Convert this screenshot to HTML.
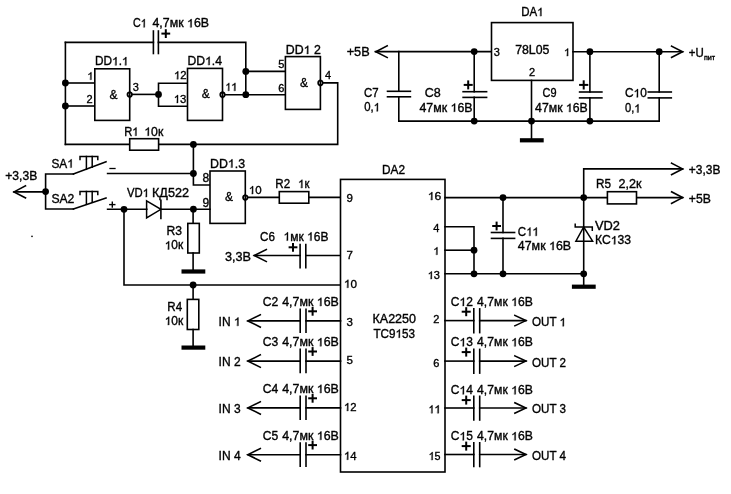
<!DOCTYPE html>
<html><head><meta charset="utf-8"><style>
html,body{margin:0;padding:0;background:#fff;}
svg{display:block;will-change:transform;}
svg path, svg rect{stroke:#000;fill:none;stroke-linecap:square;stroke-linejoin:miter;}
svg rect{fill:#fff;}
svg .f{fill:#000;stroke:none;}
svg .g{fill:#000;stroke:#000;stroke-width:0.35;vector-effect:non-scaling-stroke;}
svg .b{fill:#fff;stroke:#000;stroke-width:1.8;}
svg text{font-family:"Liberation Sans",sans-serif;fill:#000;stroke:#000;stroke-width:0.35;}
</style></head><body>
<svg width="731" height="494" viewBox="0 0 731 494">
<path d="M65.4,42.4 L65.4,144.4" stroke-width="1.6"/>
<path d="M65.4,42.4 L153.4,42.4" stroke-width="1.6"/>
<path d="M158.4,42.4 L245.8,42.4 L245.8,94.7" stroke-width="1.6"/>
<path d="M153.4,31.0 L153.4,53.5" stroke-width="1.6"/>
<path d="M158.4,31.0 L158.4,53.5" stroke-width="1.6"/>
<path d="M162.4,33.6 L169.2,33.6" stroke-width="2.0"/>
<path d="M165.8,30.2 L165.8,37.0" stroke-width="2.0"/>
<text x="133.0" y="27.3" font-size="12" textLength="13.7" lengthAdjust="spacingAndGlyphs">C </text>
<text x="152.5" y="27.3" font-size="12" textLength="56.5" lengthAdjust="spacingAndGlyphs">4,7мк  6В</text>
<circle cx="65.4" cy="83.0" r="3.4" class="f"/>
<circle cx="65.4" cy="106.0" r="3.4" class="f"/>
<path d="M65.4,83.0 L95.0,83.0" stroke-width="1.6"/>
<path d="M65.4,106.0 L95.0,106.0" stroke-width="1.6"/>
<rect x="94.8" y="68.8" width="34.9" height="51.6" stroke-width="1.6" fill="#fff"/>
<text x="95.0" y="65.3" font-size="12" textLength="33.5" lengthAdjust="spacingAndGlyphs">DD . </text>
<text x="87.3" y="79.7" font-size="11"> </text>
<text x="86.5" y="102.5" font-size="11">2</text>
<text x="109.5" y="98.7" font-size="12">&amp;</text>
<circle cx="129.7" cy="94.5" r="2.2" class="b"/>
<path d="M129.7,91.5 L129.7,97.5" stroke-width="1.5"/>
<text x="132.8" y="90.8" font-size="11">3</text>
<path d="M132.0,94.4 L158.5,94.4" stroke-width="1.6"/>
<circle cx="158.5" cy="94.4" r="3.4" class="f"/>
<path d="M187.5,83.3 L158.5,83.3 L158.5,106.2 L187.5,106.2" stroke-width="1.6"/>
<rect x="187.5" y="68.4" width="35.0" height="52.0" stroke-width="1.6" fill="#fff"/>
<text x="187.5" y="65.0" font-size="12" textLength="34.5" lengthAdjust="spacingAndGlyphs">DD .4</text>
<text x="174.0" y="79.2" font-size="11.5" textLength="12.6" lengthAdjust="spacingAndGlyphs"> 2</text>
<text x="173.8" y="102.9" font-size="11.5" textLength="12.6" lengthAdjust="spacingAndGlyphs"> 3</text>
<text x="201.8" y="97.8" font-size="12">&amp;</text>
<circle cx="222.5" cy="94.7" r="2.2" class="b"/>
<path d="M222.5,91.7 L222.5,97.7" stroke-width="1.5"/>
<text x="225.5" y="90.8" font-size="11.5" textLength="12" lengthAdjust="spacingAndGlyphs">  </text>
<path d="M224.8,94.7 L285.4,94.7" stroke-width="1.6"/>
<circle cx="245.8" cy="71.4" r="3.4" class="f"/>
<circle cx="245.8" cy="94.7" r="3.4" class="f"/>
<path d="M245.8,71.4 L285.4,71.4" stroke-width="1.6"/>
<rect x="285.4" y="56.6" width="35.0" height="52.8" stroke-width="1.6" fill="#fff"/>
<text x="285.8" y="53.9" font-size="12" textLength="35" lengthAdjust="spacingAndGlyphs">DD  2</text>
<text x="278.2" y="68.4" font-size="11">5</text>
<text x="278.2" y="91.7" font-size="11">6</text>
<text x="300.0" y="86.7" font-size="12">&amp;</text>
<circle cx="320.4" cy="82.9" r="2.2" class="b"/>
<path d="M320.4,79.9 L320.4,85.9" stroke-width="1.5"/>
<text x="325.0" y="79.3" font-size="11">4</text>
<path d="M322.9,82.9 L337.7,82.9 L337.7,144.4 L158.6,144.4" stroke-width="1.6"/>
<path d="M129.7,144.4 L65.4,144.4" stroke-width="1.6"/>
<rect x="129.7" y="138.7" width="28.9" height="11.5" stroke-width="1.6" fill="#fff"/>
<text x="124.2" y="135.7" font-size="12" textLength="14.3" lengthAdjust="spacingAndGlyphs">R </text>
<text x="144.3" y="135.7" font-size="12" textLength="19" lengthAdjust="spacingAndGlyphs"> 0к</text>
<circle cx="193.4" cy="144.4" r="3.4" class="f"/>
<path d="M193.4,144.4 L193.4,185.0 L210.0,185.0" stroke-width="1.6"/>
<circle cx="193.4" cy="173.5" r="3.4" class="f"/>
<path d="M107.6,173.5 L193.4,173.5" stroke-width="1.6"/>
<rect x="210.0" y="171.0" width="35.3" height="52.4" stroke-width="1.6" fill="#fff"/>
<text x="210.0" y="167.6" font-size="12" textLength="35" lengthAdjust="spacingAndGlyphs">DD .3</text>
<text x="202.4" y="181.8" font-size="12">8</text>
<text x="202.4" y="206.6" font-size="12">9</text>
<text x="225.0" y="200.8" font-size="12">&amp;</text>
<circle cx="245.3" cy="197.5" r="2.2" class="b"/>
<path d="M245.3,194.5 L245.3,200.5" stroke-width="1.5"/>
<text x="248.8" y="194.0" font-size="11.5" textLength="12.8" lengthAdjust="spacingAndGlyphs"> 0</text>
<path d="M247.8,197.4 L279.3,197.4" stroke-width="1.6"/>
<rect x="279.3" y="191.6" width="29.5" height="11.6" stroke-width="1.6" fill="#fff"/>
<path d="M308.8,197.4 L340.5,197.4" stroke-width="1.6"/>
<text x="275.3" y="188.0" font-size="12" textLength="14.8" lengthAdjust="spacingAndGlyphs">R2</text>
<text x="298.1" y="188.0" font-size="12" textLength="11.3" lengthAdjust="spacingAndGlyphs"> к</text>
<text x="5.3" y="180.3" font-size="12" textLength="32" lengthAdjust="spacingAndGlyphs">+3,3В</text>
<path d="M25.5,185.9 L14.0,191.9 L25.5,197.9" stroke-width="1.6"/>
<path d="M14.0,191.9 L45.6,191.9" stroke-width="1.6"/>
<circle cx="45.6" cy="191.6" r="3.4" class="f"/>
<path d="M73.4,174.0 L45.6,174.0 L45.6,209.0 L73.4,209.0" stroke-width="1.6"/>
<path d="M73.4,174.0 L106.0,161.8" stroke-width="1.6"/>
<path d="M73.4,209.0 L106.0,198.0" stroke-width="1.6"/>
<text x="51.4" y="167.6" font-size="12" textLength="22.4" lengthAdjust="spacingAndGlyphs">SA </text>
<text x="51.4" y="203.1" font-size="12" textLength="23" lengthAdjust="spacingAndGlyphs">SA2</text>
<path d="M110.0,168.5 L115.0,168.5" stroke-width="1.3"/>
<path d="M109.8,204.6 L114.8,204.6" stroke-width="1.4"/>
<path d="M112.3,202.1 L112.3,207.1" stroke-width="1.4"/>
<path d="M80.0,159.6 L80.0,156.5 L97.8,156.5 L97.8,159.6" stroke-width="1.5"/>
<path d="M86.4,156.5 L86.4,169.3" stroke-width="1.5"/>
<path d="M92.2,156.5 L92.2,167.3" stroke-width="1.5"/>
<path d="M80.0,194.6 L80.0,191.5 L97.8,191.5 L97.8,194.6" stroke-width="1.5"/>
<path d="M86.4,191.5 L86.4,204.3" stroke-width="1.5"/>
<path d="M92.2,191.5 L92.2,202.3" stroke-width="1.5"/>
<path d="M107.6,209.3 L146.8,209.3" stroke-width="1.6"/>
<path d="M160.9,209.3 L210.0,209.3" stroke-width="1.6"/>
<path d="M146.6,200.8 L160.9,209.3 L146.6,218 Z" fill="#fff" stroke-width="1.5"/>
<path d="M160.9,200.4 L160.9,218.4" stroke-width="1.6"/>
<text x="127.0" y="197.0" font-size="12" textLength="22" lengthAdjust="spacingAndGlyphs">VD </text>
<text x="152.0" y="197.0" font-size="12" textLength="37" lengthAdjust="spacingAndGlyphs">КД522</text>
<circle cx="124.0" cy="209.3" r="3.4" class="f"/>
<circle cx="193.4" cy="209.2" r="3.4" class="f"/>
<path d="M193.1,209.3 L193.1,223.4" stroke-width="1.6"/>
<rect x="187.8" y="223.4" width="11.5" height="29.6" stroke-width="1.6" fill="#fff"/>
<path d="M193.1,253.0 L193.1,271.0" stroke-width="1.6"/>
<rect x="181.5" y="269.4" width="23.8" height="4.2" class="f"/>
<text x="166.5" y="235.2" font-size="12" textLength="15.5" lengthAdjust="spacingAndGlyphs">R3</text>
<text x="164.7" y="249.4" font-size="12" textLength="18.5" lengthAdjust="spacingAndGlyphs"> 0к</text>
<text x="225.0" y="260.8" font-size="12" textLength="26" lengthAdjust="spacingAndGlyphs">3,3В</text>
<path d="M266.3,249.5 L254.3,255.5 L266.3,261.5" stroke-width="1.6"/>
<path d="M254.3,255.5 L300.1,255.5" stroke-width="1.6"/>
<path d="M305.8,255.5 L340.5,255.5" stroke-width="1.6"/>
<path d="M300.1,244.5 L300.1,267.8" stroke-width="1.6"/>
<path d="M305.8,244.5 L305.8,267.8" stroke-width="1.6"/>
<path d="M289.6,247.3 L296.4,247.3" stroke-width="2.0"/>
<path d="M293.0,243.9 L293.0,250.7" stroke-width="2.0"/>
<text x="260.0" y="240.6" font-size="12" textLength="14.9" lengthAdjust="spacingAndGlyphs">C6</text>
<text x="283.5" y="240.6" font-size="12" textLength="44.9" lengthAdjust="spacingAndGlyphs"> мк  6В</text>
<path d="M124.0,209.3 L124.0,285.0 L340.5,285.0" stroke-width="1.6"/>
<circle cx="193.1" cy="285.0" r="3.4" class="f"/>
<path d="M193.1,285.0 L193.1,299.4" stroke-width="1.6"/>
<rect x="187.3" y="299.4" width="11.5" height="30.1" stroke-width="1.6" fill="#fff"/>
<path d="M193.1,329.5 L193.1,347.6" stroke-width="1.6"/>
<rect x="181.5" y="345.5" width="23.8" height="4.2" class="f"/>
<text x="167.3" y="310.6" font-size="12" textLength="14.8" lengthAdjust="spacingAndGlyphs">R4</text>
<text x="164.7" y="324.9" font-size="12" textLength="18.6" lengthAdjust="spacingAndGlyphs"> 0к</text>
<rect x="340.5" y="179.4" width="104.5" height="292.6" stroke-width="1.6" fill="#fff"/>
<text x="382.0" y="173.7" font-size="12" textLength="23" lengthAdjust="spacingAndGlyphs">DA2</text>
<text x="372.5" y="323.1" font-size="12" textLength="43.5" lengthAdjust="spacingAndGlyphs">КА2250</text>
<text x="373.5" y="337.7" font-size="12" textLength="41.5" lengthAdjust="spacingAndGlyphs">ТС9 53</text>
<text x="346.6" y="202.4" font-size="11.5">9</text>
<text x="346.6" y="259.4" font-size="11.5">7</text>
<text x="344.0" y="287.7" font-size="11.5" textLength="13" lengthAdjust="spacingAndGlyphs"> 0</text>
<text x="346.6" y="325.6" font-size="11.5">3</text>
<text x="346.6" y="363.8" font-size="11.5">5</text>
<text x="344.0" y="410.9" font-size="11.5" textLength="12.6" lengthAdjust="spacingAndGlyphs"> 2</text>
<text x="344.0" y="459.7" font-size="11.5" textLength="12.6" lengthAdjust="spacingAndGlyphs"> 4</text>
<text x="427.8" y="200.0" font-size="11.5" textLength="13.5" lengthAdjust="spacingAndGlyphs"> 6</text>
<text x="433.3" y="232.0" font-size="11">4</text>
<text x="433.3" y="254.7" font-size="11"> </text>
<text x="427.7" y="279.0" font-size="11"> 3</text>
<text x="433.3" y="323.0" font-size="11">2</text>
<text x="433.3" y="366.5" font-size="11">6</text>
<text x="428.6" y="413.2" font-size="11.5" textLength="12.3" lengthAdjust="spacingAndGlyphs">  </text>
<text x="428.6" y="460.0" font-size="11.5" textLength="12" lengthAdjust="spacingAndGlyphs"> 5</text>
<path d="M260.3,314.7 L247.8,320.9 L260.3,327.1" stroke-width="1.6"/>
<path d="M248.2,320.9 L300.2,320.9" stroke-width="1.6"/>
<path d="M306.0,320.9 L340.5,320.9" stroke-width="1.6"/>
<path d="M300.2,309.2 L300.2,332.3" stroke-width="1.6"/>
<path d="M306.0,309.2 L306.0,332.3" stroke-width="1.6"/>
<path d="M309.2,311.3 L316.0,311.3" stroke-width="2.0"/>
<path d="M312.6,307.9 L312.6,314.7" stroke-width="2.0"/>
<text x="262.7" y="306.0" font-size="12" textLength="15.5" lengthAdjust="spacingAndGlyphs">C2</text>
<text x="282.2" y="306.0" font-size="12" textLength="56.6" lengthAdjust="spacingAndGlyphs">4,7мк  6В</text>
<text x="218.6" y="325.8" font-size="12">IN  </text>
<path d="M260.3,354.9 L247.8,361.1 L260.3,367.3" stroke-width="1.6"/>
<path d="M248.2,361.1 L300.2,361.1" stroke-width="1.6"/>
<path d="M306.0,361.1 L340.5,361.1" stroke-width="1.6"/>
<path d="M300.2,349.4 L300.2,372.5" stroke-width="1.6"/>
<path d="M306.0,349.4 L306.0,372.5" stroke-width="1.6"/>
<path d="M309.2,351.5 L316.0,351.5" stroke-width="2.0"/>
<path d="M312.6,348.1 L312.6,354.9" stroke-width="2.0"/>
<text x="262.7" y="346.2" font-size="12" textLength="15.5" lengthAdjust="spacingAndGlyphs">C3</text>
<text x="282.2" y="346.2" font-size="12" textLength="56.6" lengthAdjust="spacingAndGlyphs">4,7мк  6В</text>
<text x="218.6" y="366.0" font-size="12">IN 2</text>
<path d="M260.3,401.7 L247.8,407.9 L260.3,414.1" stroke-width="1.6"/>
<path d="M248.2,407.9 L300.2,407.9" stroke-width="1.6"/>
<path d="M306.0,407.9 L340.5,407.9" stroke-width="1.6"/>
<path d="M300.2,396.2 L300.2,419.3" stroke-width="1.6"/>
<path d="M306.0,396.2 L306.0,419.3" stroke-width="1.6"/>
<path d="M309.2,398.3 L316.0,398.3" stroke-width="2.0"/>
<path d="M312.6,394.9 L312.6,401.7" stroke-width="2.0"/>
<text x="262.7" y="393.0" font-size="12" textLength="15.5" lengthAdjust="spacingAndGlyphs">C4</text>
<text x="282.2" y="393.0" font-size="12" textLength="56.6" lengthAdjust="spacingAndGlyphs">4,7мк  6В</text>
<text x="218.6" y="412.8" font-size="12">IN 3</text>
<path d="M260.3,448.5 L247.8,454.7 L260.3,460.9" stroke-width="1.6"/>
<path d="M248.2,454.7 L300.2,454.7" stroke-width="1.6"/>
<path d="M306.0,454.7 L340.5,454.7" stroke-width="1.6"/>
<path d="M300.2,443.0 L300.2,466.1" stroke-width="1.6"/>
<path d="M306.0,443.0 L306.0,466.1" stroke-width="1.6"/>
<path d="M309.2,445.1 L316.0,445.1" stroke-width="2.0"/>
<path d="M312.6,441.7 L312.6,448.5" stroke-width="2.0"/>
<text x="262.7" y="439.8" font-size="12" textLength="15.5" lengthAdjust="spacingAndGlyphs">C5</text>
<text x="282.2" y="439.8" font-size="12" textLength="56.6" lengthAdjust="spacingAndGlyphs">4,7мк  6В</text>
<text x="218.6" y="459.6" font-size="12">IN 4</text>
<path d="M445.0,320.6 L473.8,320.6" stroke-width="1.6"/>
<path d="M479.7,320.6 L525.9,320.6" stroke-width="1.6"/>
<path d="M514.9,315.4 L525.9,320.6 L514.9,325.8" stroke-width="1.6"/>
<path d="M473.8,308.9 L473.8,332.6" stroke-width="1.6"/>
<path d="M479.7,308.9 L479.7,332.6" stroke-width="1.6"/>
<path d="M462.7,311.7 L469.7,311.7" stroke-width="2.0"/>
<path d="M466.2,308.2 L466.2,315.2" stroke-width="2.0"/>
<text x="450.8" y="305.9" font-size="12" textLength="22" lengthAdjust="spacingAndGlyphs">C 2</text>
<text x="477.1" y="305.9" font-size="12" textLength="55.7" lengthAdjust="spacingAndGlyphs">4,7мк  6В</text>
<text x="532.0" y="326.2" font-size="12" textLength="34" lengthAdjust="spacingAndGlyphs">OUT  </text>
<path d="M445.0,361.1 L473.8,361.1" stroke-width="1.6"/>
<path d="M479.7,361.1 L525.9,361.1" stroke-width="1.6"/>
<path d="M514.9,355.9 L525.9,361.1 L514.9,366.3" stroke-width="1.6"/>
<path d="M473.8,349.4 L473.8,373.1" stroke-width="1.6"/>
<path d="M479.7,349.4 L479.7,373.1" stroke-width="1.6"/>
<path d="M462.7,352.1 L469.7,352.1" stroke-width="2.0"/>
<path d="M466.2,348.6 L466.2,355.6" stroke-width="2.0"/>
<text x="450.8" y="346.3" font-size="12" textLength="22" lengthAdjust="spacingAndGlyphs">C 3</text>
<text x="477.1" y="346.3" font-size="12" textLength="55.7" lengthAdjust="spacingAndGlyphs">4,7мк  6В</text>
<text x="532.0" y="367.0" font-size="12" textLength="34" lengthAdjust="spacingAndGlyphs">OUT 2</text>
<path d="M445.0,408.0 L473.8,408.0" stroke-width="1.6"/>
<path d="M479.7,408.0 L525.9,408.0" stroke-width="1.6"/>
<path d="M514.9,402.8 L525.9,408.0 L514.9,413.2" stroke-width="1.6"/>
<path d="M473.8,396.3 L473.8,420.0" stroke-width="1.6"/>
<path d="M479.7,396.3 L479.7,420.0" stroke-width="1.6"/>
<path d="M462.7,400.1 L469.7,400.1" stroke-width="2.0"/>
<path d="M466.2,396.6 L466.2,403.6" stroke-width="2.0"/>
<text x="450.8" y="394.3" font-size="12" textLength="22" lengthAdjust="spacingAndGlyphs">C 4</text>
<text x="477.1" y="394.3" font-size="12" textLength="55.7" lengthAdjust="spacingAndGlyphs">4,7мк  6В</text>
<text x="532.0" y="413.3" font-size="12" textLength="34" lengthAdjust="spacingAndGlyphs">OUT 3</text>
<path d="M445.0,454.5 L473.8,454.5" stroke-width="1.6"/>
<path d="M479.7,454.5 L525.9,454.5" stroke-width="1.6"/>
<path d="M514.9,449.3 L525.9,454.5 L514.9,459.7" stroke-width="1.6"/>
<path d="M473.8,442.8 L473.8,466.5" stroke-width="1.6"/>
<path d="M479.7,442.8 L479.7,466.5" stroke-width="1.6"/>
<path d="M462.7,446.1 L469.7,446.1" stroke-width="2.0"/>
<path d="M466.2,442.6 L466.2,449.6" stroke-width="2.0"/>
<text x="450.8" y="440.3" font-size="12" textLength="22" lengthAdjust="spacingAndGlyphs">C 5</text>
<text x="477.1" y="440.3" font-size="12" textLength="55.7" lengthAdjust="spacingAndGlyphs">4,7мк  6В</text>
<text x="532.0" y="460.0" font-size="12" textLength="34" lengthAdjust="spacingAndGlyphs">OUT 4</text>
<path d="M445.0,197.6 L607.4,197.6" stroke-width="1.6"/>
<path d="M636.5,197.6 L682.6,197.6" stroke-width="1.6"/>
<path d="M671.6,191.8 L682.6,197.6 L671.6,203.4" stroke-width="1.6"/>
<rect x="607.4" y="191.7" width="29.1" height="12.2" stroke-width="1.6" fill="#fff"/>
<text x="596.1" y="188.3" font-size="12" textLength="15" lengthAdjust="spacingAndGlyphs">R5</text>
<text x="618.4" y="188.3" font-size="12" textLength="23" lengthAdjust="spacingAndGlyphs">2,2к</text>
<text x="688.8" y="203.3" font-size="12" textLength="22" lengthAdjust="spacingAndGlyphs">+5В</text>
<path d="M583.7,197.6 L583.7,168.9 L682.6,168.9" stroke-width="1.6"/>
<path d="M671.6,163.1 L682.6,168.9 L671.6,174.7" stroke-width="1.6"/>
<text x="688.8" y="174.2" font-size="12" textLength="31.6" lengthAdjust="spacingAndGlyphs">+3,3В</text>
<circle cx="503.0" cy="197.6" r="3.4" class="f"/>
<circle cx="583.7" cy="197.6" r="3.4" class="f"/>
<path d="M445.0,226.8 L474.0,226.8 L474.0,273.8" stroke-width="1.6"/>
<path d="M445.0,250.2 L474.0,250.2" stroke-width="1.6"/>
<circle cx="474.0" cy="250.2" r="3.4" class="f"/>
<path d="M445.0,273.8 L583.7,273.8" stroke-width="1.6"/>
<circle cx="474.0" cy="273.8" r="3.4" class="f"/>
<circle cx="503.0" cy="273.8" r="3.4" class="f"/>
<circle cx="583.7" cy="273.8" r="3.4" class="f"/>
<path d="M503.0,197.6 L503.0,232.5" stroke-width="1.6"/>
<path d="M503.0,238.4 L503.0,273.8" stroke-width="1.6"/>
<path d="M491.5,232.5 L514.6,232.5" stroke-width="1.6"/>
<path d="M491.5,238.4 L514.6,238.4" stroke-width="1.6"/>
<path d="M493.2,226.0 L500.0,226.0" stroke-width="2.0"/>
<path d="M496.6,222.6 L496.6,229.4" stroke-width="2.0"/>
<text x="517.8" y="235.8" font-size="12" textLength="21.2" lengthAdjust="spacingAndGlyphs">C  </text>
<text x="517.8" y="250.0" font-size="12" textLength="53.3" lengthAdjust="spacingAndGlyphs">47мк  6В</text>
<path d="M583.7,197.6 L583.7,286.7" stroke-width="1.6"/>
<path d="M575.9,241.2 L592.6,241.2 L583.7,227 Z" fill="#fff" stroke-width="1.5"/>
<path d="M575.2,224.2 L575.2,227.0 L592.3,227.0 L592.3,230.2" stroke-width="1.5"/>
<rect x="571.9" y="284.6" width="23.8" height="4.2" class="f"/>
<text x="595.0" y="229.5" font-size="12" textLength="25" lengthAdjust="spacingAndGlyphs">VD2</text>
<text x="595.0" y="244.3" font-size="12" textLength="36" lengthAdjust="spacingAndGlyphs">КС 33</text>
<text x="346.7" y="56.1" font-size="12" textLength="23" lengthAdjust="spacingAndGlyphs">+5В</text>
<path d="M387.2,45.9 L375.8,51.7 L387.2,57.5" stroke-width="1.6"/>
<path d="M375.5,51.6 L491.3,51.6" stroke-width="1.6"/>
<circle cx="474.2" cy="51.6" r="3.4" class="f"/>
<path d="M398.8,51.6 L398.8,91.3" stroke-width="1.6"/>
<path d="M398.8,96.8 L398.8,121.1" stroke-width="1.6"/>
<path d="M387.5,91.3 L410.4,91.3" stroke-width="1.6"/>
<path d="M387.5,96.8 L410.4,96.8" stroke-width="1.6"/>
<text x="364.0" y="97.1" font-size="12" textLength="14.6" lengthAdjust="spacingAndGlyphs">C7</text>
<text x="364.2" y="111.3" font-size="12" textLength="15.8" lengthAdjust="spacingAndGlyphs">0, </text>
<path d="M474.2,51.6 L474.2,91.7" stroke-width="1.6"/>
<path d="M474.2,97.4 L474.2,121.1" stroke-width="1.6"/>
<path d="M463.1,91.7 L486.6,91.7" stroke-width="1.6"/>
<path d="M463.1,97.4 L486.6,97.4" stroke-width="1.6"/>
<path d="M464.7,84.9 L471.7,84.9" stroke-width="2"/>
<path d="M468.2,81.4 L468.2,88.4" stroke-width="2"/>
<text x="424.7" y="97.1" font-size="12" textLength="16" lengthAdjust="spacingAndGlyphs">C8</text>
<text x="419.5" y="111.7" font-size="12" textLength="53" lengthAdjust="spacingAndGlyphs">47мк  6В</text>
<circle cx="474.2" cy="121.1" r="3.4" class="f"/>
<rect x="491.5" y="22.6" width="81.5" height="57.8" stroke-width="1.6" fill="#fff"/>
<text x="521.2" y="16.1" font-size="12" textLength="22.3" lengthAdjust="spacingAndGlyphs">DA </text>
<text x="515.2" y="54.3" font-size="12" textLength="34.2" lengthAdjust="spacingAndGlyphs">78L05</text>
<text x="493.7" y="56.0" font-size="11">3</text>
<text x="564.0" y="56.0" font-size="11"> </text>
<text x="529.0" y="75.9" font-size="11">2</text>
<path d="M531.5,80.4 L531.5,140.0" stroke-width="1.6"/>
<circle cx="531.5" cy="121.1" r="3.4" class="f"/>
<rect x="519.9" y="138.2" width="23.8" height="4.2" class="f"/>
<path d="M573.0,51.7 L682.6,51.7" stroke-width="1.6"/>
<path d="M671.6,46.1 L682.6,51.7 L671.6,57.3" stroke-width="1.6"/>
<circle cx="589.9" cy="51.7" r="3.4" class="f"/>
<circle cx="659.2" cy="51.7" r="3.4" class="f"/>
<text x="688.8" y="56.7" font-size="12" textLength="15" lengthAdjust="spacingAndGlyphs">+U</text>
<text x="703.9" y="59.6" font-size="6.9" textLength="11.2" lengthAdjust="spacingAndGlyphs">пит</text>
<path d="M589.9,51.7 L589.9,92.0" stroke-width="1.6"/>
<path d="M589.9,97.9 L589.9,121.1" stroke-width="1.6"/>
<path d="M579.6,92.0 L601.9,92.0" stroke-width="1.6"/>
<path d="M579.6,97.9 L601.9,97.9" stroke-width="1.6"/>
<path d="M580.1,84.9 L587.3,84.9" stroke-width="2.0"/>
<path d="M583.7,81.3 L583.7,88.5" stroke-width="2.0"/>
<text x="542.5" y="96.5" font-size="12" textLength="14" lengthAdjust="spacingAndGlyphs">C9</text>
<text x="535.1" y="111.9" font-size="12" textLength="52.6" lengthAdjust="spacingAndGlyphs">47мк  6В</text>
<path d="M659.2,51.7 L659.2,92.0" stroke-width="1.6"/>
<path d="M659.2,97.9 L659.2,121.1" stroke-width="1.6"/>
<path d="M648.3,92.0 L671.3,92.0" stroke-width="1.6"/>
<path d="M648.3,97.9 L671.3,97.9" stroke-width="1.6"/>
<text x="625.0" y="97.3" font-size="12" textLength="21.8" lengthAdjust="spacingAndGlyphs">C 0</text>
<text x="625.0" y="112.4" font-size="12" textLength="15.5" lengthAdjust="spacingAndGlyphs">0, </text>
<path d="M398.8,121.1 L659.2,121.1" stroke-width="1.6"/>
<circle cx="589.9" cy="121.1" r="3.4" class="f"/>
<circle cx="32" cy="236.4" r="0.8" class="f"/>
<path d="M583,0 L763,0 L763,1409 L647,1409 Q600,1316 487,1219 Q374,1122 223,1055 L223,889 Q307,918 412,978 Q518,1037 583,1096 Z" transform="translate(140.729,27.30) scale(0.00524,-0.00586)" class="g"/>
<path d="M583,0 L763,0 L763,1409 L647,1409 Q600,1316 487,1219 Q374,1122 223,1055 L223,889 Q307,918 412,978 Q518,1037 583,1096 Z" transform="translate(187.008,27.30) scale(0.00605,-0.00586)" class="g"/>
<path d="M583,0 L763,0 L763,1409 L647,1409 Q600,1316 487,1219 Q374,1122 223,1055 L223,889 Q307,918 412,978 Q518,1037 583,1096 Z" transform="translate(112.065,65.30) scale(0.00578,-0.00586)" class="g"/>
<path d="M583,0 L763,0 L763,1409 L647,1409 Q600,1316 487,1219 Q374,1122 223,1055 L223,889 Q307,918 412,978 Q518,1037 583,1096 Z" transform="translate(121.914,65.30) scale(0.00578,-0.00586)" class="g"/>
<path d="M583,0 L763,0 L763,1409 L647,1409 Q600,1316 487,1219 Q374,1122 223,1055 L223,889 Q307,918 412,978 Q518,1037 583,1096 Z" transform="translate(87.300,79.70) scale(0.00538,-0.00537)" class="g"/>
<path d="M583,0 L763,0 L763,1409 L647,1409 Q600,1316 487,1219 Q374,1122 223,1055 L223,889 Q307,918 412,978 Q518,1037 583,1096 Z" transform="translate(205.075,65.00) scale(0.00595,-0.00586)" class="g"/>
<path d="M583,0 L763,0 L763,1409 L647,1409 Q600,1316 487,1219 Q374,1122 223,1055 L223,889 Q307,918 412,978 Q518,1037 583,1096 Z" transform="translate(174.000,79.20) scale(0.00554,-0.00562)" class="g"/>
<path d="M583,0 L763,0 L763,1409 L647,1409 Q600,1316 487,1219 Q374,1122 223,1055 L223,889 Q307,918 412,978 Q518,1037 583,1096 Z" transform="translate(173.800,102.90) scale(0.00554,-0.00562)" class="g"/>
<path d="M583,0 L763,0 L763,1409 L647,1409 Q600,1316 487,1219 Q374,1122 223,1055 L223,889 Q307,918 412,978 Q518,1037 583,1096 Z" transform="translate(225.500,90.80) scale(0.00489,-0.00562)" class="g"/>
<path d="M583,0 L763,0 L763,1409 L647,1409 Q600,1316 487,1219 Q374,1122 223,1055 L223,889 Q307,918 412,978 Q518,1037 583,1096 Z" transform="translate(231.053,90.80) scale(0.00566,-0.00562)" class="g"/>
<path d="M583,0 L763,0 L763,1409 L647,1409 Q600,1316 487,1219 Q374,1122 223,1055 L223,889 Q307,918 412,978 Q518,1037 583,1096 Z" transform="translate(303.630,53.90) scale(0.00604,-0.00586)" class="g"/>
<path d="M583,0 L763,0 L763,1409 L647,1409 Q600,1316 487,1219 Q374,1122 223,1055 L223,889 Q307,918 412,978 Q518,1037 583,1096 Z" transform="translate(132.267,135.70) scale(0.00547,-0.00586)" class="g"/>
<path d="M583,0 L763,0 L763,1409 L647,1409 Q600,1316 487,1219 Q374,1122 223,1055 L223,889 Q307,918 412,978 Q518,1037 583,1096 Z" transform="translate(144.300,135.70) scale(0.00599,-0.00586)" class="g"/>
<path d="M583,0 L763,0 L763,1409 L647,1409 Q600,1316 487,1219 Q374,1122 223,1055 L223,889 Q307,918 412,978 Q518,1037 583,1096 Z" transform="translate(227.830,167.60) scale(0.00604,-0.00586)" class="g"/>
<path d="M583,0 L763,0 L763,1409 L647,1409 Q600,1316 487,1219 Q374,1122 223,1055 L223,889 Q307,918 412,978 Q518,1037 583,1096 Z" transform="translate(248.800,194.00) scale(0.00563,-0.00562)" class="g"/>
<path d="M583,0 L763,0 L763,1409 L647,1409 Q600,1316 487,1219 Q374,1122 223,1055 L223,889 Q307,918 412,978 Q518,1037 583,1096 Z" transform="translate(298.100,188.00) scale(0.00556,-0.00586)" class="g"/>
<path d="M583,0 L763,0 L763,1409 L647,1409 Q600,1316 487,1219 Q374,1122 223,1055 L223,889 Q307,918 412,978 Q518,1037 583,1096 Z" transform="translate(67.197,167.60) scale(0.00580,-0.00586)" class="g"/>
<path d="M583,0 L763,0 L763,1409 L647,1409 Q600,1316 487,1219 Q374,1122 223,1055 L223,889 Q307,918 412,978 Q518,1037 583,1096 Z" transform="translate(142.697,197.00) scale(0.00553,-0.00586)" class="g"/>
<path d="M583,0 L763,0 L763,1409 L647,1409 Q600,1316 487,1219 Q374,1122 223,1055 L223,889 Q307,918 412,978 Q518,1037 583,1096 Z" transform="translate(164.700,249.40) scale(0.00584,-0.00586)" class="g"/>
<path d="M583,0 L763,0 L763,1409 L647,1409 Q600,1316 487,1219 Q374,1122 223,1055 L223,889 Q307,918 412,978 Q518,1037 583,1096 Z" transform="translate(283.500,240.60) scale(0.00588,-0.00586)" class="g"/>
<path d="M583,0 L763,0 L763,1409 L647,1409 Q600,1316 487,1219 Q374,1122 223,1055 L223,889 Q307,918 412,978 Q518,1037 583,1096 Z" transform="translate(307.021,240.60) scale(0.00588,-0.00586)" class="g"/>
<path d="M583,0 L763,0 L763,1409 L647,1409 Q600,1316 487,1219 Q374,1122 223,1055 L223,889 Q307,918 412,978 Q518,1037 583,1096 Z" transform="translate(164.700,324.90) scale(0.00587,-0.00586)" class="g"/>
<path d="M583,0 L763,0 L763,1409 L647,1409 Q600,1316 487,1219 Q374,1122 223,1055 L223,889 Q307,918 412,978 Q518,1037 583,1096 Z" transform="translate(395.518,337.70) scale(0.00571,-0.00586)" class="g"/>
<path d="M583,0 L763,0 L763,1409 L647,1409 Q600,1316 487,1219 Q374,1122 223,1055 L223,889 Q307,918 412,978 Q518,1037 583,1096 Z" transform="translate(344.000,287.70) scale(0.00571,-0.00562)" class="g"/>
<path d="M583,0 L763,0 L763,1409 L647,1409 Q600,1316 487,1219 Q374,1122 223,1055 L223,889 Q307,918 412,978 Q518,1037 583,1096 Z" transform="translate(344.000,410.90) scale(0.00554,-0.00562)" class="g"/>
<path d="M583,0 L763,0 L763,1409 L647,1409 Q600,1316 487,1219 Q374,1122 223,1055 L223,889 Q307,918 412,978 Q518,1037 583,1096 Z" transform="translate(344.000,459.70) scale(0.00554,-0.00562)" class="g"/>
<path d="M583,0 L763,0 L763,1409 L647,1409 Q600,1316 487,1219 Q374,1122 223,1055 L223,889 Q307,918 412,978 Q518,1037 583,1096 Z" transform="translate(427.800,200.00) scale(0.00593,-0.00562)" class="g"/>
<path d="M583,0 L763,0 L763,1409 L647,1409 Q600,1316 487,1219 Q374,1122 223,1055 L223,889 Q307,918 412,978 Q518,1037 583,1096 Z" transform="translate(433.300,254.70) scale(0.00538,-0.00537)" class="g"/>
<path d="M583,0 L763,0 L763,1409 L647,1409 Q600,1316 487,1219 Q374,1122 223,1055 L223,889 Q307,918 412,978 Q518,1037 583,1096 Z" transform="translate(427.700,279.00) scale(0.00538,-0.00537)" class="g"/>
<path d="M583,0 L763,0 L763,1409 L647,1409 Q600,1316 487,1219 Q374,1122 223,1055 L223,889 Q307,918 412,978 Q518,1037 583,1096 Z" transform="translate(428.600,413.20) scale(0.00501,-0.00562)" class="g"/>
<path d="M583,0 L763,0 L763,1409 L647,1409 Q600,1316 487,1219 Q374,1122 223,1055 L223,889 Q307,918 412,978 Q518,1037 583,1096 Z" transform="translate(434.292,413.20) scale(0.00580,-0.00562)" class="g"/>
<path d="M583,0 L763,0 L763,1409 L647,1409 Q600,1316 487,1219 Q374,1122 223,1055 L223,889 Q307,918 412,978 Q518,1037 583,1096 Z" transform="translate(428.600,460.00) scale(0.00527,-0.00562)" class="g"/>
<path d="M583,0 L763,0 L763,1409 L647,1409 Q600,1316 487,1219 Q374,1122 223,1055 L223,889 Q307,918 412,978 Q518,1037 583,1096 Z" transform="translate(316.769,306.00) scale(0.00606,-0.00586)" class="g"/>
<path d="M583,0 L763,0 L763,1409 L647,1409 Q600,1316 487,1219 Q374,1122 223,1055 L223,889 Q307,918 412,978 Q518,1037 583,1096 Z" transform="translate(233.928,325.80) scale(0.00587,-0.00586)" class="g"/>
<path d="M583,0 L763,0 L763,1409 L647,1409 Q600,1316 487,1219 Q374,1122 223,1055 L223,889 Q307,918 412,978 Q518,1037 583,1096 Z" transform="translate(316.769,346.20) scale(0.00606,-0.00586)" class="g"/>
<path d="M583,0 L763,0 L763,1409 L647,1409 Q600,1316 487,1219 Q374,1122 223,1055 L223,889 Q307,918 412,978 Q518,1037 583,1096 Z" transform="translate(316.769,393.00) scale(0.00606,-0.00586)" class="g"/>
<path d="M583,0 L763,0 L763,1409 L647,1409 Q600,1316 487,1219 Q374,1122 223,1055 L223,889 Q307,918 412,978 Q518,1037 583,1096 Z" transform="translate(316.769,439.80) scale(0.00606,-0.00586)" class="g"/>
<path d="M583,0 L763,0 L763,1409 L647,1409 Q600,1316 487,1219 Q374,1122 223,1055 L223,889 Q307,918 412,978 Q518,1037 583,1096 Z" transform="translate(459.450,305.90) scale(0.00587,-0.00586)" class="g"/>
<path d="M583,0 L763,0 L763,1409 L647,1409 Q600,1316 487,1219 Q374,1122 223,1055 L223,889 Q307,918 412,978 Q518,1037 583,1096 Z" transform="translate(511.120,305.90) scale(0.00596,-0.00586)" class="g"/>
<path d="M583,0 L763,0 L763,1409 L647,1409 Q600,1316 487,1219 Q374,1122 223,1055 L223,889 Q307,918 412,978 Q518,1037 583,1096 Z" transform="translate(559.527,326.20) scale(0.00568,-0.00586)" class="g"/>
<path d="M583,0 L763,0 L763,1409 L647,1409 Q600,1316 487,1219 Q374,1122 223,1055 L223,889 Q307,918 412,978 Q518,1037 583,1096 Z" transform="translate(459.450,346.30) scale(0.00587,-0.00586)" class="g"/>
<path d="M583,0 L763,0 L763,1409 L647,1409 Q600,1316 487,1219 Q374,1122 223,1055 L223,889 Q307,918 412,978 Q518,1037 583,1096 Z" transform="translate(511.120,346.30) scale(0.00596,-0.00586)" class="g"/>
<path d="M583,0 L763,0 L763,1409 L647,1409 Q600,1316 487,1219 Q374,1122 223,1055 L223,889 Q307,918 412,978 Q518,1037 583,1096 Z" transform="translate(459.450,394.30) scale(0.00587,-0.00586)" class="g"/>
<path d="M583,0 L763,0 L763,1409 L647,1409 Q600,1316 487,1219 Q374,1122 223,1055 L223,889 Q307,918 412,978 Q518,1037 583,1096 Z" transform="translate(511.120,394.30) scale(0.00596,-0.00586)" class="g"/>
<path d="M583,0 L763,0 L763,1409 L647,1409 Q600,1316 487,1219 Q374,1122 223,1055 L223,889 Q307,918 412,978 Q518,1037 583,1096 Z" transform="translate(459.450,440.30) scale(0.00587,-0.00586)" class="g"/>
<path d="M583,0 L763,0 L763,1409 L647,1409 Q600,1316 487,1219 Q374,1122 223,1055 L223,889 Q307,918 412,978 Q518,1037 583,1096 Z" transform="translate(511.120,440.30) scale(0.00596,-0.00586)" class="g"/>
<path d="M583,0 L763,0 L763,1409 L647,1409 Q600,1316 487,1219 Q374,1122 223,1055 L223,889 Q307,918 412,978 Q518,1037 583,1096 Z" transform="translate(526.487,235.80) scale(0.00511,-0.00586)" class="g"/>
<path d="M583,0 L763,0 L763,1409 L647,1409 Q600,1316 487,1219 Q374,1122 223,1055 L223,889 Q307,918 412,978 Q518,1037 583,1096 Z" transform="translate(532.289,235.80) scale(0.00589,-0.00586)" class="g"/>
<path d="M583,0 L763,0 L763,1409 L647,1409 Q600,1316 487,1219 Q374,1122 223,1055 L223,889 Q307,918 412,978 Q518,1037 583,1096 Z" transform="translate(548.998,250.00) scale(0.00607,-0.00586)" class="g"/>
<path d="M583,0 L763,0 L763,1409 L647,1409 Q600,1316 487,1219 Q374,1122 223,1055 L223,889 Q307,918 412,978 Q518,1037 583,1096 Z" transform="translate(610.713,244.30) scale(0.00595,-0.00586)" class="g"/>
<path d="M583,0 L763,0 L763,1409 L647,1409 Q600,1316 487,1219 Q374,1122 223,1055 L223,889 Q307,918 412,978 Q518,1037 583,1096 Z" transform="translate(373.668,111.30) scale(0.00556,-0.00586)" class="g"/>
<path d="M583,0 L763,0 L763,1409 L647,1409 Q600,1316 487,1219 Q374,1122 223,1055 L223,889 Q307,918 412,978 Q518,1037 583,1096 Z" transform="translate(450.522,111.70) scale(0.00604,-0.00586)" class="g"/>
<path d="M583,0 L763,0 L763,1409 L647,1409 Q600,1316 487,1219 Q374,1122 223,1055 L223,889 Q307,918 412,978 Q518,1037 583,1096 Z" transform="translate(537.112,16.10) scale(0.00561,-0.00586)" class="g"/>
<path d="M583,0 L763,0 L763,1409 L647,1409 Q600,1316 487,1219 Q374,1122 223,1055 L223,889 Q307,918 412,978 Q518,1037 583,1096 Z" transform="translate(564.000,56.00) scale(0.00538,-0.00537)" class="g"/>
<path d="M583,0 L763,0 L763,1409 L647,1409 Q600,1316 487,1219 Q374,1122 223,1055 L223,889 Q307,918 412,978 Q518,1037 583,1096 Z" transform="translate(565.888,111.90) scale(0.00599,-0.00586)" class="g"/>
<path d="M583,0 L763,0 L763,1409 L647,1409 Q600,1316 487,1219 Q374,1122 223,1055 L223,889 Q307,918 412,978 Q518,1037 583,1096 Z" transform="translate(633.571,97.30) scale(0.00581,-0.00586)" class="g"/>
<path d="M583,0 L763,0 L763,1409 L647,1409 Q600,1316 487,1219 Q374,1122 223,1055 L223,889 Q307,918 412,978 Q518,1037 583,1096 Z" transform="translate(634.288,112.40) scale(0.00545,-0.00586)" class="g"/>
</svg>
</body></html>
